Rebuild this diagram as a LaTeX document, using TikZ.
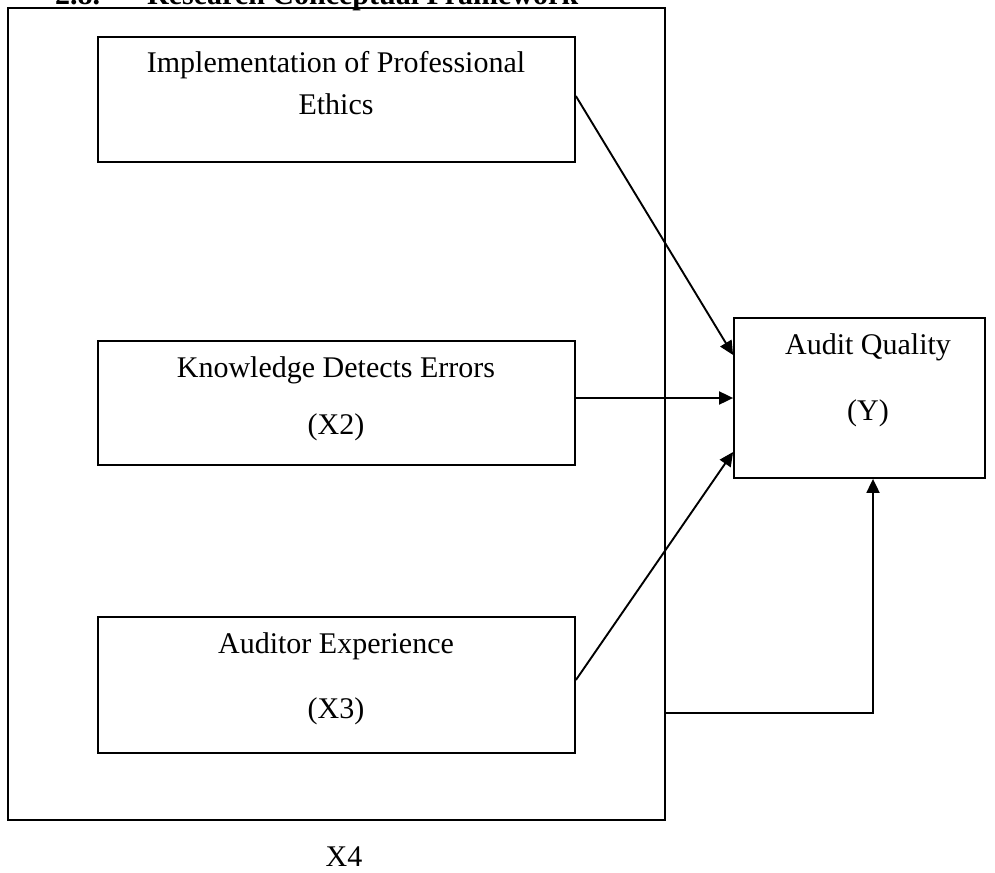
\documentclass[tikz,border=0pt]{standalone}
\usepackage{fontspec}
\setmainfont{Liberation Serif}
\usetikzlibrary{arrows.meta,positioning}

\begin{document}
\begin{tikzpicture}[x=1pt,y=-1pt,
	box/.style={draw,line width=1.8pt,inner sep=0pt},
	txt/.style={anchor=base,inner sep=0pt,font=\fontsize{30}{36}\selectfont},
	conn/.style={line width=1.9pt,-{Triangle[length=14pt,width=13pt]}}]
	\clip (0,0) rectangle (995,872);
	\useasboundingbox (0,0) rectangle (995,872);
	
	% Titulo (cortado arriba)
	\node[txt,anchor=base west,font=\fontsize{30}{36}\selectfont\bfseries] (num) at (55,5) {2.8.};
	\node[txt,anchor=base west,font=\fontsize{30}{36}\selectfont\bfseries] (title) at (147,5) {Research Conceptual Framework};
	
	% Marco exterior X4
	\node[box,minimum width=657pt,minimum height=812pt] (x4) at (336.5,414) {};
	\node[txt] (x4lbl) at (344,866) {X4};
	
	% Variables independientes
	\node[box,minimum width=477pt,minimum height=125pt] (ethics) at (336.5,99.5) {};
	\node[txt] (ethicsa) at (336,73) {Implementation of Professional};
	\node[txt] (ethicsb) at (336,114) {Ethics};
	
	\node[box,minimum width=477pt,minimum height=124pt] (know) at (336.5,403) {};
	\node[txt] (knowa) at (336,377) {Knowledge Detects Errors};
	\node[txt] (knowb) at (336,434) {(X2)};
	
	\node[box,minimum width=477pt,minimum height=136pt] (exper) at (336.5,685) {};
	\node[txt] (expera) at (336,653) {Auditor Experience};
	\node[txt] (experb) at (336,718) {(X3)};
	
	% Variable dependiente
	\node[box,minimum width=251pt,minimum height=160pt] (qual) at (859.5,398) {};
	\node[txt] (quala) at (868,354) {Audit Quality};
	\node[txt] (qualb) at (868,420) {(Y)};
	
	% Flechas
	\coordinate (turn) at (873,713);
	\draw[conn] ([yshift=-60pt]ethics.north east) -- ([yshift=43pt]qual.west);
	\draw[conn] (know.east |- qual.west) -- (qual.west);
	\draw[conn] ([yshift=5pt]exper.east) -- ([yshift=-54pt]qual.west);
	\draw[conn] (x4.east |- turn) -- (turn) -- (turn |- qual.south);
\end{tikzpicture}
\end{document}
